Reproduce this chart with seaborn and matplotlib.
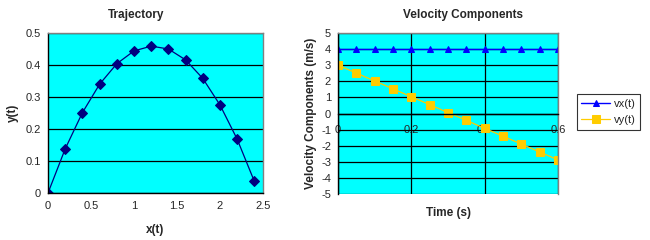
import pandas as pd
import matplotlib
matplotlib.use('Agg')
import matplotlib.pyplot as plt
import seaborn as sns

# valores
t = [0, 0.05, 0.1, 0.15, 0.2, 0.25, 0.3, 0.35, 0.4, 0.45, 0.5, 0.55, 0.6]
x_t = [0, 0.2, 0.4, 0.6, 0.8, 1.0, 1.2, 1.4, 1.6, 1.8, 2.0, 2.2, 2.4]
y_t = [0, 0.138, 0.251, 0.340, 0.404, 0.444, 0.459, 0.450, 0.416, 0.358, 0.275, 0.168, 0.036]
vx = [4, 4, 4, 4, 4, 4, 4, 4, 4, 4, 4, 4, 4]
vy = [3, 2.51, 2.02, 1.53, 1.04, 0.55, 0.06, -0.43, -0.92, -1.41, -1.9, -2.39, -2.88]

df = pd.DataFrame({'t': t, 'x': x_t, 'y': y_t, 'vx': vx, 'vy': vy})

sns.set_style('white')
plt.rcParams['font.family'] = ['Liberation Sans', 'DejaVu Sans']
plt.rcParams['font.size'] = 8
plt.rcParams['axes.unicode_minus'] = False

fig = plt.figure(figsize=(6.5, 2.4), dpi=100)
ax1 = fig.add_axes([48/650, 47/240, 215/650, 160/240])
ax2 = fig.add_axes([338/650, 46/240, 220/650, 161/240])

for ax in (ax1, ax2):
    ax.set_facecolor('#00FFFF')
    for s in ax.spines.values():
        s.set_color('#808080')
        s.set_linewidth(1)
    ax.spines['left'].set_color('black')
    ax.spines['bottom'].set_color('black')

# --- Trajetoria ---
sns.lineplot(x='x', y='y', data=df, ax=ax1, color='#000080', marker='D',
             markersize=5, markeredgecolor='#000080', linewidth=0.9, sort=False)
ax1.set_xlim(0, 2.5)
ax1.set_ylim(0, 0.5)
ax1.set_xticks([0, 0.5, 1, 1.5, 2, 2.5])
ax1.set_xticklabels(['0', '0.5', '1', '1.5', '2', '2.5'])
ax1.set_yticks([0, 0.1, 0.2, 0.3, 0.4, 0.5])
ax1.set_yticklabels(['0', '0.1', '0.2', '0.3', '0.4', '0.5'])
ax1.yaxis.grid(True, color='black', linewidth=0.9)
ax1.set_axisbelow(True)
ax1.tick_params(axis='x', direction='in', length=3, width=0.8, pad=6, labelsize=8)
ax1.tick_params(axis='y', direction='out', length=3, width=0.8, pad=2, labelsize=8)
ax1.set_xlabel('x(t)', fontweight='bold', fontsize=8.5, labelpad=9)
ax1.set_ylabel('y(t)', fontweight='bold', fontsize=8.5, labelpad=5)
fig.text(136/650, 1 - 15/240, 'Trajectory', fontweight='bold', fontsize=8.5,
         ha='center', va='center')

# --- Componentes da velocidade ---
sns.lineplot(x='t', y='vx', data=df, ax=ax2, color='#0000FF', marker='^',
             markersize=5, markeredgecolor='#0000FF', linewidth=1, label='vx(t)')
sns.lineplot(x='t', y='vy', data=df, ax=ax2, color='#FFCC00', marker='s',
             markersize=6, markeredgecolor='#FFCC00', linewidth=0.9, label='vy(t)')
ax2.set_xlim(0, 0.6)
ax2.set_ylim(-5, 5)
ax2.set_xticks([0, 0.2, 0.4, 0.6])
ax2.set_xticklabels(['0', '0.2', '0.4', '0.6'])
ax2.set_yticks(range(-5, 6))
ax2.grid(True, color='black', linewidth=0.9)
ax2.set_axisbelow(True)
ax2.spines['bottom'].set_position(('data', 0))
ax2.tick_params(axis='x', direction='out', length=3, width=0.8, pad=5, labelsize=8)
ax2.tick_params(axis='y', direction='out', length=3, width=0.8, pad=2, labelsize=8)
ax2.set_xlabel('')
ax2.set_ylabel('Velocity Components (m/s)', fontweight='bold', fontsize=8.5, labelpad=3)
fig.text(463/650, 1 - 15/240, 'Velocity Components', fontweight='bold', fontsize=8.5,
         ha='center', va='center')
fig.text(448/650, 1 - 213/240, 'Time (s)', fontweight='bold', fontsize=8.5,
         ha='center', va='center')

leg = ax2.legend(loc='center left', bbox_to_anchor=(577/650, 1 - 112/240),
                 bbox_transform=fig.transFigure, frameon=True, fancybox=False,
                 edgecolor='black', fontsize=8, handlelength=2.6,
                 borderpad=0.4, labelspacing=0.6, handletextpad=0.3,
                 borderaxespad=0)
leg.get_frame().set_linewidth(0.8)

fig.savefig('out.png', dpi=100)
